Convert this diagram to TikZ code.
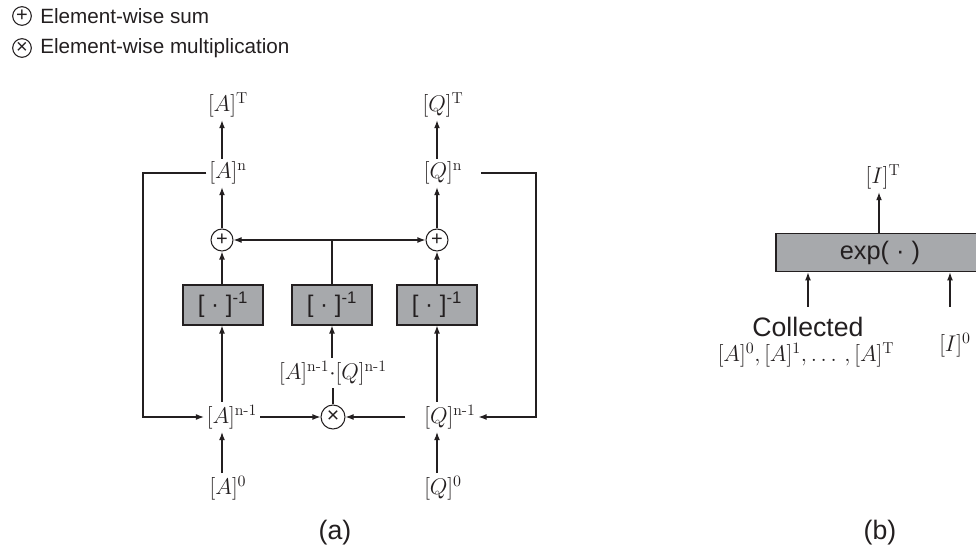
\RequirePackage{fix-cm}
\documentclass[tikz,border=0pt]{standalone}
\usepackage{amsmath}
\usepackage{fontspec}
\setsansfont{Liberation Sans}
\usepackage{xcolor}
\usepackage{tikz}
\usetikzlibrary{arrows.meta,positioning,calc}

\definecolor{ink}{HTML}{231F20}
\definecolor{boxgray}{HTML}{A7A9AC}

\tikzset{
  lbl/.style={font=\fontsize{17}{20}\selectfont, text=ink, inner sep=2pt},
  capt/.style={font=\sffamily\fontsize{20}{23}\selectfont, text=ink, inner sep=1pt},
  legtxt/.style={font=\sffamily\fontsize{15.5}{18}\selectfont, text=ink, anchor=west, inner sep=0pt},
  opnode/.style={circle, draw=ink, line width=0.8pt, minimum size=16.5pt, inner sep=0pt, text=ink, font=\sffamily\fontsize{15}{15}\selectfont},
  invbox/.style={draw=ink, fill=boxgray, line width=0.8pt, minimum width=60pt, minimum height=30pt, inner sep=0pt, text=ink, font=\sffamily\fontsize{18}{20}\selectfont},
  flow/.style={draw=ink, line width=0.8pt, -{Latex[length=6pt,width=4.4pt]}},
  wire/.style={draw=ink, line width=0.8pt},
}

\begin{document}
\begin{tikzpicture}
\begin{scope}[x=0.75pt, y=-0.75pt]
\useasboundingbox (0,0) rectangle (976,552);
% Legend
\node[opnode, minimum size=14pt] (legsum) at (22,16) {+};
\node[legtxt] (legsumtxt) at (40,16) {Element-wise sum};
\node[opnode, minimum size=14pt] (legmul) at (22,48) {×};
\node[legtxt] (legmultxt) at (40,48) {Element-wise multiplication};

% (a) columns
\coordinate (colA) at (222,0);
\coordinate (colQ) at (437,0);
\coordinate (fbA) at (143,0);
\coordinate (fbQ) at (536,0);
\coordinate (jn) at (332,240);

% Outputs
\node[lbl] (AT) at (228,105) {$[A]^{\mathrm{T}}$};
\node[lbl] (An) at (228,173) {$[A]^{\mathrm{n}}$};
\node[lbl] (QT) at (443,105) {$[Q]^{\mathrm{T}}$};
\node[lbl] (Qn) at (443,173) {$[Q]^{\mathrm{n}}$};
% Sums
\node[opnode] (sumA) at (222,240) {+};
\node[opnode] (sumQ) at (437,240) {+};
% Inverses
\node[invbox] (invA) at (223,305) {[ · ]\textsuperscript{-1}};
\node[invbox] (invM) at (332,305) {[ · ]\textsuperscript{-1}};
\node[invbox] (invQ) at (437,305) {[ · ]\textsuperscript{-1}};
% Previous step
\node[lbl] (prod) at (333,373) {$[A]^{\textnormal{n-1}}{\cdot}[Q]^{\textnormal{n-1}}$};
\node[opnode, minimum size=18pt, font=\sffamily\fontsize{16}{16}\selectfont] (mul) at (333,417) {×};
\node[lbl] (Anm) at (232,417) {$[A]^{\textnormal{n-1}}$};
\node[lbl] (Qnm) at (450,417) {$[Q]^{\textnormal{n-1}}$};
\node[lbl] (A0) at (228,488) {$[A]^{0}$};
\node[lbl] (Q0) at (443,488) {$[Q]^{0}$};
\node[capt] (capA) at (335,533) {(a)};

% A column
\draw[flow] (A0.north -| colA) -- (Anm.south -| colA);
\draw[flow] (Anm.north -| colA) -- (invA.south -| colA);
\draw[flow] (invA.north -| colA) -- (sumA.south);
\draw[flow] (sumA.north) -- (An.south -| colA);
\draw[flow] (An.north -| colA) -- (AT.south -| colA);
% Q column
\draw[flow] (Q0.north -| colQ) -- (Qnm.south -| colQ);
\draw[flow] (Qnm.north -| colQ) -- (invQ.south);
\draw[flow] (invQ.north) -- (sumQ.south);
\draw[flow] (sumQ.north) -- (Qn.south -| colQ);
\draw[flow] (Qn.north -| colQ) -- (QT.south -| colQ);
% middle
\draw[flow] (Anm.east) -- (mul.west);
\draw[flow, shorten <=12pt] (Qnm.west) -- (mul.east);
\draw[wire] (mul.north) -- (prod.south -| mul.north);
\draw[flow] (prod.north -| invM.south) -- (invM.south);
\draw[wire] (invM.north) -- (jn);
\draw[flow] (jn) -- (sumA.east);
\draw[flow] (jn) -- (sumQ.west);
% feedback
\draw[flow] (An.west) -- (An.west -| fbA) |- (Anm.west);
\draw[flow, shorten <=12pt] (Qn.east) -- (Qn.east -| fbQ) |- (Qnm.east);

% (b)
\coordinate (inC) at (808,307);
\coordinate (inI) at (950,307);
\node[lbl] (IT) at (883,177) {$[I]^{\mathrm{T}}$};
\node[invbox, minimum width=156pt, minimum height=29pt, font=\sffamily\fontsize{19}{22}\selectfont] (expb) at (880,252.5) {exp( · )};
\node[capt] (coll) at (808,327) {Collected};
\node[lbl] (collA) at (806,355) {$[A]^{0}, [A]^{1}, \ldots\,, [A]^{\mathrm{T}}$};
\node[lbl] (I0) at (955,345) {$[I]^{0}$};
\node[capt] (capB) at (880,533) {(b)};
\draw[flow] (expb.north -| 879,0) -- (IT.south -| 879,0);
\draw[flow] (inC) -- (inC |- expb.south);
\draw[flow] (inI) -- (inI |- expb.south);
\end{scope}
\end{tikzpicture}
\end{document}
